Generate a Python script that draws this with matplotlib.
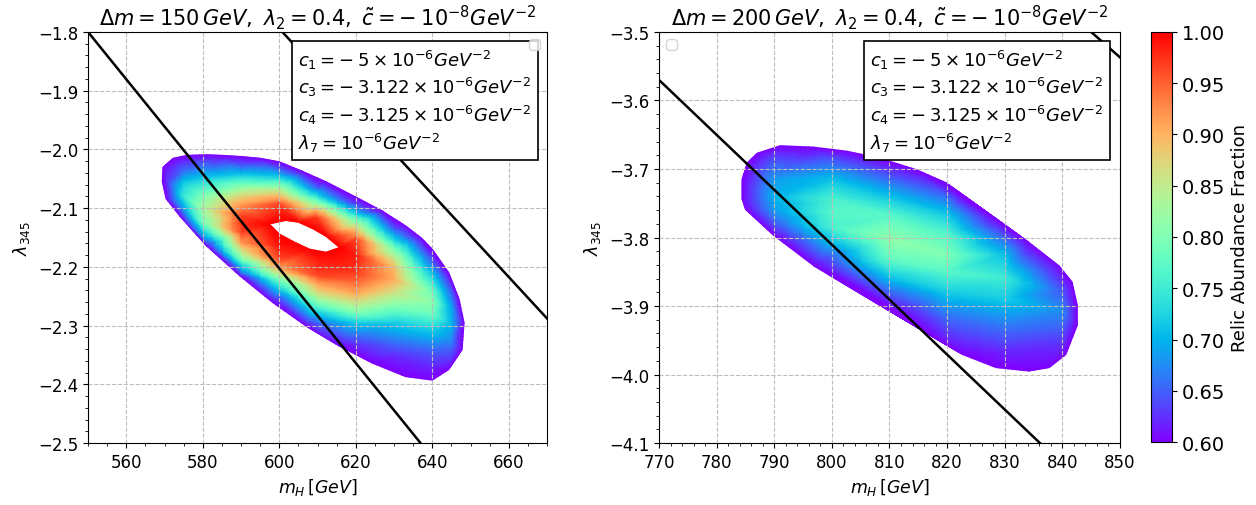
import numpy as np
import matplotlib
matplotlib.use("Agg")
import matplotlib.pyplot as plt
import matplotlib.tri as mtri
from matplotlib.colors import Normalize
from matplotlib.cm import ScalarMappable
from matplotlib.path import Path

# ---------------------------------------------------------------------------
# Delta m = 150 GeV scan: relic abundance fraction sampled in (m_H, lambda_345)
# ---------------------------------------------------------------------------
# outline of the allowed region (fraction = 0.6)
edge_mh_150 = [569.4, 569.6, 572.2, 576.0, 580.9, 585.0, 590.0, 595.0, 600.0, 606.0,
               612.2, 620.9, 627.0, 633.0, 637.0, 640.0, 644.3, 647.0, 648.3, 647.8,
               644.3, 640.0, 633.0, 624.3, 615.7, 607.0, 598.3, 589.6, 580.9, 573.9, 570.4]
edge_lam_150 = [-2.055, -2.030, -2.015, -2.010, -2.009, -2.010, -2.012, -2.015, -2.021, -2.037,
                -2.055, -2.084, -2.105, -2.130, -2.150, -2.170, -2.210, -2.255, -2.295, -2.341,
                -2.375, -2.393, -2.387, -2.364, -2.335, -2.301, -2.261, -2.215, -2.164, -2.113, -2.084]

# interior samples, column by column
mh_150 = ([571.0]
          + [575.0] * 4
          + [580.0] * 6
          + [590.0] * 13
          + [600.0] * 14
          + [610.0] * 15
          + [620.0] * 16
          + [630.0] * 12
          + [640.0] * 9
          + [645.0] * 5)
lam_150 = ([-2.055]
           + [-2.035, -2.058, -2.080, -2.100]
           + [-2.025, -2.050, -2.075, -2.100, -2.125, -2.150]
           + [-2.029, -2.044, -2.061, -2.078, -2.095, -2.113, -2.127, -2.141, -2.158, -2.170,
              -2.187, -2.198, -2.210]
           + [-2.035, -2.047, -2.061, -2.073, -2.084, -2.093, -2.108, -2.165, -2.187, -2.200,
              -2.210, -2.221, -2.238, -2.250]
           + [-2.061, -2.067, -2.078, -2.090, -2.098, -2.107, -2.115, -2.190, -2.215, -2.227,
              -2.244, -2.261, -2.278, -2.295, -2.310]
           + [-2.093, -2.098, -2.110, -2.121, -2.133, -2.144, -2.153, -2.181, -2.210, -2.227,
              -2.244, -2.261, -2.278, -2.295, -2.318, -2.335]
           + [-2.130, -2.138, -2.153, -2.170, -2.187, -2.204, -2.221, -2.244, -2.267, -2.295,
              -2.330, -2.353]
           + [-2.180, -2.193, -2.215, -2.244, -2.261, -2.278, -2.307, -2.341, -2.370]
           + [-2.240, -2.270, -2.300, -2.330, -2.355])
frac_150 = ([0.635]
            + [0.655, 0.72, 0.745, 0.69]
            + [0.65, 0.72, 0.79, 0.83, 0.79, 0.67]
            + [0.655, 0.72, 0.80, 0.87, 0.92, 0.965, 0.975, 0.965, 0.92, 0.87, 0.80, 0.72, 0.655]
            + [0.655, 0.72, 0.80, 0.87, 0.92, 0.965, 0.985, 0.99, 0.965, 0.92, 0.87, 0.80, 0.72,
               0.655]
            + [0.635, 0.655, 0.72, 0.80, 0.87, 0.92, 0.965, 0.985, 0.965, 0.92, 0.87, 0.80, 0.72,
               0.655, 0.62]
            + [0.63, 0.655, 0.72, 0.80, 0.87, 0.92, 0.965, 0.985, 0.97, 0.945, 0.91, 0.86, 0.80,
               0.72, 0.655, 0.62]
            + [0.63, 0.655, 0.72, 0.80, 0.86, 0.895, 0.905, 0.86, 0.80, 0.72, 0.655, 0.62]
            + [0.62, 0.655, 0.72, 0.79, 0.81, 0.79, 0.72, 0.655, 0.62]
            + [0.645, 0.69, 0.70, 0.665, 0.63])

# over-abundant pocket (fraction = 1.0 on its rim, above 1 inside)
rim_mh_150 = [597.4, 601.7, 605.0, 608.7, 612.2, 615.7, 612.2, 608.0, 604.0, 600.0]
rim_lam_150 = [-2.127, -2.121, -2.124, -2.135, -2.148, -2.167, -2.175, -2.170, -2.158, -2.144]
core_mh_150 = [602.5, 607.0, 611.5]
core_lam_150 = [-2.135, -2.148, -2.162]
core_frac_150 = [1.03, 1.035, 1.03]

# constraint lines
lineA_mh_150 = [550.0, 636.9]
lineA_lam_150 = [-1.8, -2.5]
lineB_mh_150 = [600.8, 670.0]
lineB_lam_150 = [-1.8, -2.288]

# ---------------------------------------------------------------------------
# Delta m = 200 GeV scan
# ---------------------------------------------------------------------------
edge_mh_200 = [791.0, 787.0, 785.3, 784.4, 784.4, 785.0, 789.9, 796.8, 805.4, 811.2,
               817.0, 822.7, 828.5, 834.2, 837.7, 840.6, 842.6, 842.6, 841.7, 839.4,
               834.2, 828.5, 822.7, 819.8, 814.7, 808.3, 802.6, 796.8]
edge_lam_200 = [-3.666, -3.677, -3.691, -3.715, -3.744, -3.759, -3.797, -3.841, -3.879, -3.908,
                -3.942, -3.971, -3.990, -3.995, -3.990, -3.971, -3.928, -3.899, -3.865, -3.841,
                -3.807, -3.773, -3.740, -3.720, -3.701, -3.684, -3.674, -3.668]

mh_200 = ([785.5]
          + [790.0] * 7
          + [800.0] * 8
          + [810.0] * 9
          + [820.0] * 9
          + [830.0] * 7
          + [840.0] * 5)
lam_200 = ([-3.725]
           + [-3.680, -3.695, -3.715, -3.740, -3.760, -3.775, -3.790]
           + [-3.686, -3.715, -3.744, -3.765, -3.785, -3.802, -3.826, -3.846]
           + [-3.703, -3.715, -3.740, -3.768, -3.802, -3.831, -3.855, -3.879, -3.894]
           + [-3.730, -3.740, -3.764, -3.797, -3.826, -3.850, -3.879, -3.918, -3.947]
           + [-3.790, -3.802, -3.826, -3.860, -3.889, -3.928, -3.966]
           + [-3.862, -3.879, -3.908, -3.937, -3.962])
frac_200 = ([0.62]
            + [0.63, 0.655, 0.685, 0.70, 0.685, 0.655, 0.62]
            + [0.645, 0.71, 0.76, 0.77, 0.76, 0.72, 0.655, 0.62]
            + [0.63, 0.655, 0.71, 0.77, 0.815, 0.78, 0.72, 0.655, 0.62]
            + [0.62, 0.655, 0.71, 0.77, 0.80, 0.77, 0.72, 0.655, 0.62]
            + [0.62, 0.655, 0.71, 0.75, 0.72, 0.665, 0.62]
            + [0.62, 0.645, 0.675, 0.645, 0.62])

lineA_mh_200 = [770.0, 836.1]
lineA_lam_200 = [-3.57, -4.1]
lineB_mh_200 = [845.0, 850.0]
lineB_lam_200 = [-3.5, -3.537]

EDGE_FRAC = 0.6
RIM_FRAC = 1.0

titles = [r"$\Delta m = 150\,GeV,\ \lambda_2 = 0.4,\ \tilde{c} = -\:10^{-8}GeV^{-2}$",
          r"$\Delta m = 200\,GeV,\ \lambda_2 = 0.4,\ \tilde{c} = -\:10^{-8}GeV^{-2}$"]
coupling_lines = [r"$c_1 = -\:5\times10^{-6}GeV^{-2}$",
                  r"$c_3 = -\:3.122\times10^{-6}GeV^{-2}$",
                  r"$c_4 = -\:3.125\times10^{-6}GeV^{-2}$",
                  r"$\lambda_7 = 10^{-6}GeV^{-2}$"]
cbar_ticks = [0.60, 0.65, 0.70, 0.75, 0.80, 0.85, 0.90, 0.95, 1.00]

# ---------------------------------------------------------------------------
fig = plt.figure(figsize=(12.56, 5.06), dpi=100)
ax1 = fig.add_axes([0.0701, 0.1225, 0.3655, 0.8123])
ax2 = fig.add_axes([0.5247, 0.1225, 0.3670, 0.8123])
cax = fig.add_axes([0.9164, 0.1245, 0.0167, 0.8103])

norm = Normalize(vmin=0.6, vmax=1.0)
cmap = plt.get_cmap("rainbow")


def draw_field(ax, mh, lam, frac, xlim, ylim, hole=None):
    mh = np.asarray(mh, float)
    lam = np.asarray(lam, float)
    frac = np.asarray(frac, float)
    # build the mesh in screen-proportional units so it is not skewed by the axis scales
    pos = ax.get_position()
    w, h = fig.get_size_inches()
    sx = pos.width * w / (xlim[1] - xlim[0])
    sy = pos.height * h / (ylim[1] - ylim[0])
    base = mtri.Triangulation(mh * sx, lam * sy)
    tri = mtri.Triangulation(mh, lam, base.triangles)
    interp = mtri.LinearTriInterpolator(tri, frac)
    refiner = mtri.UniformTriRefiner(tri)
    tri_f, frac_f = refiner.refine_field(frac, triinterpolator=interp, subdiv=3)
    if hole is not None:
        # points above the abundance limit are left blank
        cx = tri_f.x[tri_f.triangles].mean(axis=1)
        cy = tri_f.y[tri_f.triangles].mean(axis=1)
        inside = Path(np.column_stack(hole)).contains_points(np.column_stack([cx, cy]))
        tri_f.set_mask(inside)
    ax.tripcolor(tri_f, np.clip(frac_f, 0.6, 1.0), shading="gouraud", cmap=cmap,
                 norm=norm, zorder=1)


def style_axes(ax, xlim, ylim, xticks, yticks, title):
    ax.set_xlim(*xlim)
    ax.set_ylim(*ylim)
    ax.set_xticks(xticks)
    ax.set_yticks(yticks)
    ax.minorticks_on()
    ax.tick_params(labelsize=12)
    ax.grid(True, which="major", linestyle="--", color="#bdbdbd", linewidth=0.8)
    ax.set_xlabel(r"$m_H\,[GeV]$", fontsize=12.5)
    ax.set_ylabel(r"$\lambda_{345}$", fontsize=12.5)
    ax.set_title(title, fontsize=15, pad=5)
    ax.text(0.458, 0.962, "\n".join(coupling_lines), transform=ax.transAxes,
            fontsize=13, va="top", ha="left", linespacing=1.25, zorder=4,
            bbox=dict(boxstyle="square,pad=0.35", facecolor="white", edgecolor="black",
                      linewidth=1.2))


# left panel
xl1, yl1 = (550, 670), (-2.5, -1.8)
mh_all = edge_mh_150 + mh_150 + rim_mh_150 + core_mh_150
lam_all = edge_lam_150 + lam_150 + rim_lam_150 + core_lam_150
frac_all = ([EDGE_FRAC] * len(edge_mh_150) + frac_150
            + [RIM_FRAC] * len(rim_mh_150) + core_frac_150)
draw_field(ax1, mh_all, lam_all, frac_all, xl1, yl1, hole=(rim_mh_150, rim_lam_150))
ax1.plot(lineA_mh_150, lineA_lam_150, color="black", lw=1.8, zorder=3)
ax1.plot(lineB_mh_150, lineB_lam_150, color="black", lw=1.8, zorder=3)
style_axes(ax1, xl1, yl1, np.arange(560, 661, 20), np.round(np.arange(-2.5, -1.79, 0.1), 1),
           titles[0])
ax1.legend(handles=[], loc="upper right")

# right panel
xl2, yl2 = (770, 850), (-4.1, -3.5)
mh_all = edge_mh_200 + mh_200
lam_all = edge_lam_200 + lam_200
frac_all = [EDGE_FRAC] * len(edge_mh_200) + frac_200
draw_field(ax2, mh_all, lam_all, frac_all, xl2, yl2)
ax2.plot(lineA_mh_200, lineA_lam_200, color="black", lw=1.8, zorder=3)
ax2.plot(lineB_mh_200, lineB_lam_200, color="black", lw=1.8, zorder=3)
style_axes(ax2, xl2, yl2, np.arange(770, 851, 10), np.round(np.arange(-4.1, -3.49, 0.1), 1),
           titles[1])
ax2.legend(handles=[], loc="upper left")

# colour bar
sm = ScalarMappable(norm=norm, cmap=cmap)
cb = fig.colorbar(sm, cax=cax, ticks=cbar_ticks, format="%.2f")
cb.ax.tick_params(labelsize=14)
cb.set_label("Relic Abundance Fraction", fontsize=13)

fig.savefig("out.png", dpi=100)
